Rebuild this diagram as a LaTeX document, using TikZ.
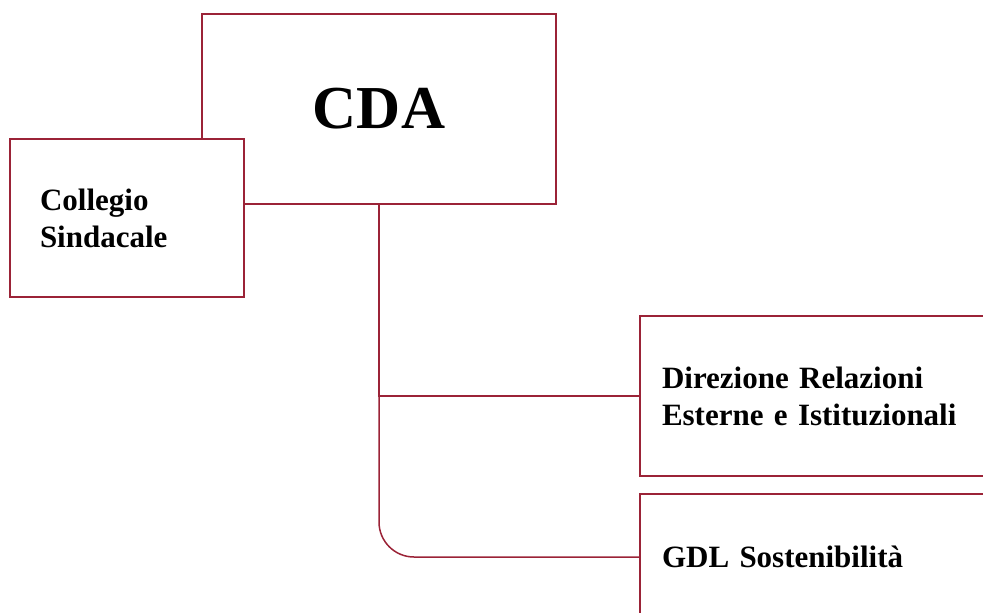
\documentclass[tikz,border=0pt]{standalone}
\usepackage{fontspec}
\setmainfont{Liberation Serif}
\usepackage{xcolor}
\usetikzlibrary{positioning}

\definecolor{bordeaux}{RGB}{155,35,55}

\tikzset{
    box/.style={rectangle, draw=bordeaux, line width=1.5pt, fill=white, font=\bfseries\fontsize{31}{37}\selectfont},
    leftbox/.style={box, align=left, inner xsep=#1},
    link/.style={draw=bordeaux, line width=1.5pt}
}

\begin{document}
\begin{tikzpicture}[x=1pt, y=-1pt]
        \useasboundingbox (0, 0) rectangle (983, 613);
        \clip (0, 0) rectangle (983, 613);

        \node[box, minimum width=354pt, minimum height=190pt, font=\bfseries\fontsize{61}{70}\selectfont] (cda) at (379, 109) {CDA};
        \node[leftbox=30pt, text width=174pt, minimum height=158pt] (coll) at (127, 218) {Collegio\\Sindacale};

        \node[leftbox=22pt, text width=316pt, minimum height=160pt] (dir) at (820, 396) {Direzione Relazioni\\Esterne e Istituzionali};
        \node[leftbox=22pt, text width=316pt, minimum height=126pt] (gdl) at (820, 557) {GDL Sostenibilità};

        \draw[link] (cda.south) |- (dir.west);
        \draw[link, rounded corners=35pt] (cda.south) |- (gdl.west);
    \end{tikzpicture}
\end{document}
